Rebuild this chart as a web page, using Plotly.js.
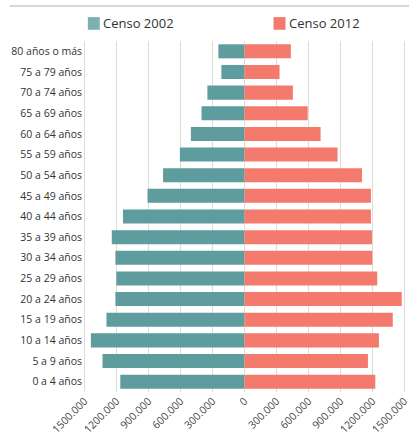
<!DOCTYPE html>
<html>
<head>
<meta charset="utf-8">
<script src="https://cdn.plot.ly/plotly-3.0.1.min.js"></script>
<style>html,body{margin:0;padding:0;background:#fff;}#chart{width:409px;height:445px;}</style>
</head>
<body>
<div id="chart"></div>
<script>
const categories = ["0 a 4 años","5 a 9 años","10 a 14 años","15 a 19 años","20 a 24 años","25 a 29 años","30 a 34 años","35 a 39 años","40 a 44 años","45 a 49 años","50 a 54 años","55 a 59 años","60 a 64 años","65 a 69 años","70 a 74 años","75 a 79 años","80 años o más"];
const censo2002 = [1165000,1332000,1441000,1295000,1211000,1202000,1211000,1245000,1140000,910000,764000,606000,503000,403000,348000,217000,245000];
const censo2012 = [1227000,1158000,1261000,1391000,1475000,1245000,1199000,1196000,1186000,1186000,1102000,873000,714000,593000,454000,329000,435000];
const tickValues = [-1500000,-1200000,-900000,-600000,-300000,0,300000,600000,900000,1200000,1500000];
const tickLabels = ["1500.000","1200.000","900.000","600.000","300.000","0","300.000","600.000","900.000","1200.000","1500.000"];
const seriesNames = ["Censo 2002","Censo 2012"];

const teal = "#5e9c9d";
const salmon = "#f47a6d";
const font = "Open Sans, sans-serif";

const traces = [
  {type:"bar", orientation:"h", name:seriesNames[0], y:categories, x:censo2002.map(v=>-v), marker:{color:teal}, hoverinfo:"skip"},
  {type:"bar", orientation:"h", name:seriesNames[1], y:categories, x:censo2012, marker:{color:salmon}, hoverinfo:"skip"}
];

const layout = {
  width:409, height:445,
  margin:{l:83, r:3, t:41, b:53},
  paper_bgcolor:"#fff", plot_bgcolor:"#fff",
  barmode:"relative", bargap:0.32,
  showlegend:false,
  font:{family:font, color:"#333", size:11},
  xaxis:{
    range:[-1515000,1515000], tickvals:tickValues, ticktext:tickLabels,
    tickangle:-45, showgrid:true, gridcolor:"#dcdcd8", gridwidth:1,
    zeroline:false, showline:false, ticks:"", fixedrange:true,
    ticklabeloverflow:"allow",
    tickfont:{family:font, size:10.5, color:"#444"}
  },
  yaxis:{
    type:"category", categoryorder:"array", categoryarray:categories,
    showgrid:false, zeroline:false, showline:false, ticks:"",
    tickfont:{family:font, size:10.5, color:"#333"}, automargin:false
  },
  shapes:[
    {type:"line", xref:"paper", yref:"paper", x0:-0.227, x1:1.02, y0:1.1, y1:1.1, line:{color:"#c8c8c8", width:1.5}},
    {type:"rect", xref:"paper", yref:"paper", x0:0.015, x1:0.052, y0:1.032, y1:1.068, line:{width:0}, fillcolor:"#7fb0b0"},
    {type:"rect", xref:"paper", yref:"paper", x0:0.59, x1:0.627, y0:1.032, y1:1.068, line:{width:0}, fillcolor:salmon}
  ],
  annotations:[
    {xref:"paper", yref:"paper", x:0.057, y:1.05, xanchor:"left", yanchor:"middle", text:seriesNames[0], showarrow:false, font:{family:font, size:13, color:"#333"}},
    {xref:"paper", yref:"paper", x:0.632, y:1.05, xanchor:"left", yanchor:"middle", text:seriesNames[1], showarrow:false, font:{family:font, size:13, color:"#333"}}
  ]
};

Plotly.newPlot("chart", traces, layout, {displayModeBar:false, staticPlot:true});
</script>
</body>
</html>
